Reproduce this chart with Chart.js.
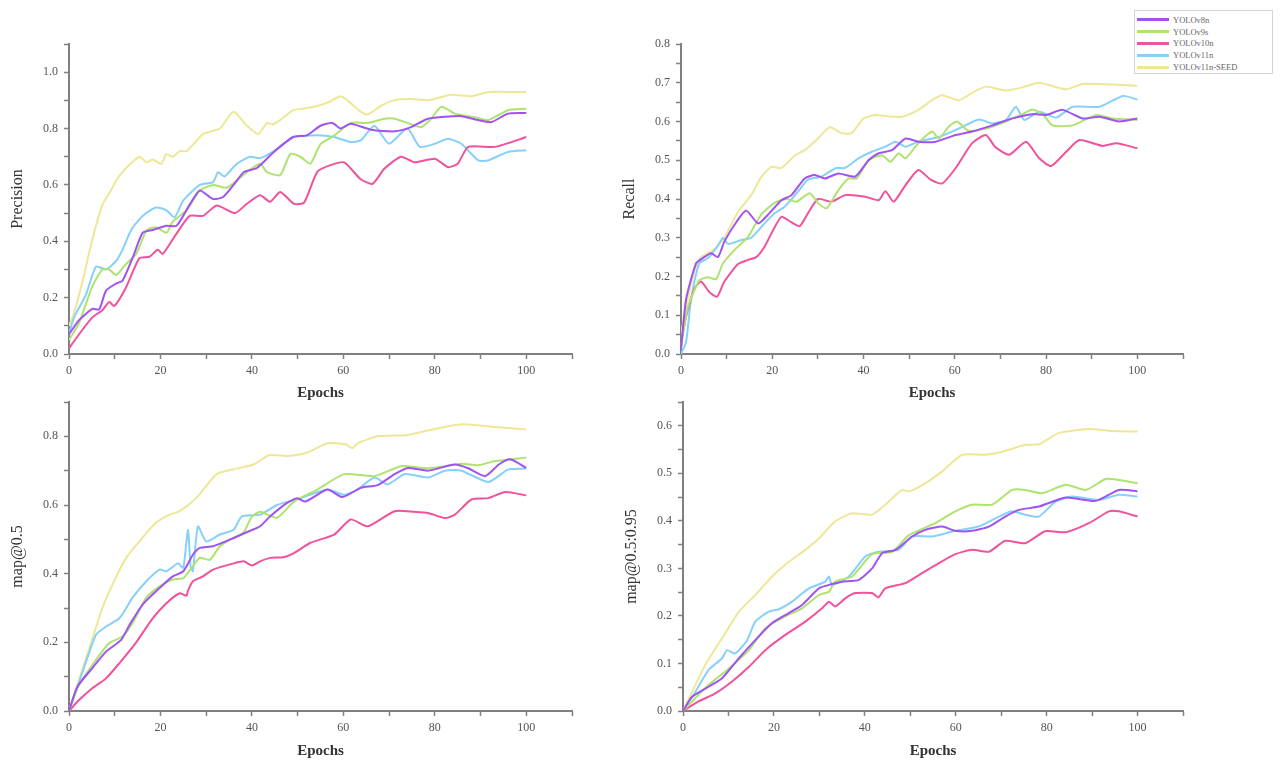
<!DOCTYPE html>
<html>
<head>
<meta charset="utf-8">
<script src="https://cdn.jsdelivr.net/npm/chart.js@4.4.1/dist/chart.umd.min.js"></script>
<style>
  html, body { margin: 0; padding: 0; background: #fff; }
  body { width: 1283px; height: 764px; position: relative; overflow: hidden; }
  .c { position: absolute; }
  #legend { position: absolute; left: 1134px; top: 10px; width: 139px; height: 64px; border: 1px solid #d4d4d4; background: #fff; box-sizing: border-box; padding-top: 3px; }
  .row { height: 11.8px; display: flex; align-items: center; font-family: 'Liberation Serif', 'Times New Roman', serif; font-size: 8.5px; color: #666; }
  .sw { width: 32px; height: 3px; margin: 0 4px 0 2px; }
</style>
</head>
<body>
<canvas id="cP" class="c" style="left:0px;top:0px" width="620" height="406"></canvas>
<canvas id="cR" class="c" style="left:612px;top:0px" width="620" height="406"></canvas>
<canvas id="cM" class="c" style="left:0px;top:360px" width="620" height="404"></canvas>
<canvas id="cQ" class="c" style="left:614px;top:360px" width="620" height="404"></canvas>
<div id="legend"></div>
<script>
// ---- series names and colours ----
const seriesNames = ['YOLOv8n', 'YOLOv9s', 'YOLOv10n', 'YOLOv11n', 'YOLOv11n-SEED'];
const seriesColors = ['#a052f2', '#ade36e', '#f0529c', '#86d0fa', '#eee796'];

// ---- x axis tick labels ----
const epochTickLabels = [0, 20, 40, 60, 80, 100];

// ---- Precision [epoch, value] ----
const precision_v8n = [[0,0.07],[2.2,0.12],[5.1,0.16],[6.6,0.158],[8.1,0.225],[10.3,0.25],[11.7,0.26],[14,0.345],[16.1,0.43],[18.3,0.44],[21.3,0.455],[23.5,0.455],[26.4,0.53],[28.6,0.58],[31.5,0.55],[33.7,0.557],[36,0.60],[38.2,0.645],[41.1,0.66],[44.8,0.717],[49,0.77],[52,0.776],[55,0.81],[57.6,0.82],[59.4,0.80],[61.6,0.817],[66,0.796],[71.2,0.79],[74.8,0.805],[78.5,0.835],[85.8,0.844],[89.5,0.83],[92.4,0.823],[96,0.853],[100,0.855]];
const precision_v9s = [[0,0.05],[2.2,0.11],[5.1,0.24],[7.3,0.30],[8.8,0.30],[10.3,0.28],[12.5,0.32],[14.7,0.355],[17,0.44],[19,0.45],[21.3,0.43],[22.7,0.47],[25.7,0.51],[28.6,0.58],[31.5,0.60],[34.5,0.59],[38.9,0.645],[41.8,0.675],[43.3,0.645],[46.2,0.635],[48.4,0.71],[50.6,0.70],[52.8,0.675],[55,0.745],[58,0.775],[61.6,0.82],[65.3,0.82],[69,0.835],[71.2,0.835],[74,0.82],[77,0.805],[79.2,0.835],[81.4,0.877],[84.4,0.853],[88.8,0.84],[91.7,0.83],[96,0.865],[100,0.87]];
const precision_v10n = [[0,0.02],[2.2,0.07],[5.1,0.13],[7.3,0.155],[8.8,0.185],[9.9,0.17],[12.5,0.237],[15.4,0.34],[17.6,0.345],[19.4,0.37],[20.5,0.355],[23.5,0.427],[26.4,0.49],[29.3,0.49],[32.3,0.527],[36.3,0.50],[38.9,0.533],[41.8,0.563],[44,0.54],[46.2,0.575],[49.2,0.533],[51.4,0.537],[54.3,0.646],[57.2,0.67],[60.2,0.68],[63.8,0.62],[66.4,0.604],[69,0.658],[72.6,0.70],[75.6,0.68],[80,0.693],[82.9,0.663],[85,0.675],[87.3,0.735],[93.2,0.735],[100,0.77]];
const precision_v11n = [[0,0.07],[1.1,0.13],[3.7,0.21],[5.9,0.31],[8.1,0.30],[10.3,0.33],[11.7,0.37],[13.6,0.44],[16.1,0.49],[19,0.52],[21.3,0.51],[23.1,0.485],[25,0.545],[28.6,0.60],[31.5,0.61],[32.6,0.645],[34,0.63],[36.7,0.675],[39.6,0.70],[41.8,0.695],[44.8,0.72],[49.2,0.77],[54.3,0.776],[58,0.77],[61.6,0.752],[63.8,0.758],[66.8,0.81],[70,0.746],[74,0.80],[76.7,0.735],[80,0.746],[82.9,0.764],[85.8,0.746],[89.5,0.687],[91.7,0.687],[96,0.717],[100,0.723]];
const precision_v11nSEED = [[0,0.10],[1,0.14],[3,0.26],[5,0.40],[7.3,0.53],[8.8,0.57],[10.5,0.62],[12.5,0.66],[15.4,0.70],[17,0.68],[18.3,0.69],[20.2,0.675],[21.3,0.71],[22.7,0.70],[24.2,0.72],[25.7,0.72],[27.5,0.75],[29.3,0.78],[31,0.79],[33,0.80],[36,0.86],[38.9,0.81],[41.4,0.78],[43.3,0.82],[44.5,0.815],[46.2,0.83],[49,0.865],[51,0.87],[54.3,0.88],[57,0.895],[59.4,0.915],[60.9,0.90],[63.8,0.86],[65.3,0.85],[68.2,0.88],[71,0.90],[74.8,0.905],[78.5,0.90],[83.6,0.92],[88,0.915],[91.7,0.93],[96,0.93],[100,0.93]];

// ---- Recall ----
const recall_v8n = [[0,0.01],[1.1,0.14],[3.3,0.234],[4.7,0.247],[6.6,0.26],[8.1,0.25],[9.5,0.29],[12.1,0.34],[14.3,0.37],[16.9,0.337],[19.1,0.36],[22,0.397],[24.2,0.41],[27.1,0.453],[29.3,0.462],[31.5,0.453],[34.5,0.466],[38.2,0.458],[41.1,0.50],[43.3,0.518],[46.2,0.526],[49.2,0.556],[52,0.548],[55.8,0.548],[60.2,0.565],[63.8,0.574],[68.2,0.59],[72.6,0.608],[77,0.619],[80,0.617],[83.6,0.63],[88,0.608],[91.7,0.612],[96,0.60],[100,0.608]];
const recall_v9s = [[0,0.02],[1.5,0.12],[4,0.19],[5.9,0.198],[7.7,0.193],[9.2,0.234],[11.7,0.268],[14.7,0.303],[17.6,0.36],[20.5,0.39],[23.1,0.40],[25.3,0.393],[28.2,0.415],[30,0.39],[31.9,0.376],[34.5,0.423],[36.7,0.453],[38.5,0.453],[41.1,0.50],[44,0.513],[45.9,0.496],[47.7,0.518],[49.2,0.505],[52,0.544],[55,0.574],[56.5,0.556],[58.7,0.587],[60.5,0.60],[63,0.576],[66.8,0.582],[71.2,0.60],[74.8,0.619],[77,0.631],[79.2,0.62],[81.4,0.59],[85.8,0.59],[91,0.617],[94.6,0.608],[100,0.604]];
const recall_v10n = [[0,0.03],[1.1,0.096],[3,0.17],[4.4,0.187],[6.2,0.16],[7.9,0.148],[9.5,0.187],[12.5,0.232],[14.7,0.243],[16.5,0.25],[18.3,0.277],[20.2,0.32],[22,0.354],[24.2,0.34],[26,0.33],[27.8,0.363],[30,0.40],[33,0.393],[36,0.41],[40.4,0.406],[43.3,0.397],[44.8,0.42],[46.6,0.393],[49.2,0.436],[52,0.475],[54.7,0.45],[57.2,0.44],[60.2,0.48],[63.8,0.544],[66.8,0.565],[68.8,0.535],[71.9,0.514],[75.6,0.548],[78.5,0.505],[81.1,0.485],[84.4,0.522],[87.3,0.552],[92.4,0.537],[95.4,0.544],[100,0.531]];
const recall_v11n = [[0,0],[1.1,0.03],[2.2,0.14],[4,0.234],[5.9,0.247],[8.1,0.28],[9.2,0.30],[10.3,0.284],[13.2,0.294],[15.4,0.30],[18.3,0.337],[20.5,0.363],[22.7,0.38],[25.7,0.42],[27.8,0.45],[30.8,0.458],[34,0.48],[35.9,0.48],[38.9,0.505],[41.8,0.522],[44.8,0.535],[47,0.548],[49.2,0.535],[52,0.548],[56.5,0.56],[60.9,0.582],[65.3,0.605],[68.2,0.595],[71.2,0.604],[73.4,0.638],[75.2,0.604],[78.5,0.625],[82.2,0.61],[85.8,0.638],[91.7,0.638],[96.8,0.666],[100,0.657]];
const recall_v11nSEED = [[0,0.05],[1.1,0.12],[3,0.217],[4.4,0.25],[7.3,0.27],[9.5,0.30],[12.5,0.367],[15.4,0.41],[17.6,0.457],[19.8,0.483],[22,0.48],[25,0.513],[27.1,0.526],[30,0.556],[32.6,0.585],[35.2,0.57],[37.4,0.57],[40,0.608],[42.6,0.617],[45.5,0.613],[48.4,0.612],[52,0.63],[55,0.655],[57.2,0.668],[60.9,0.655],[63.8,0.674],[66.8,0.69],[71.2,0.68],[74.8,0.688],[78.5,0.70],[84.4,0.683],[88,0.697],[93.2,0.696],[100,0.692]];

// ---- mAP@0.5 ----
const map50_v8n = [[0,0],[1.8,0.07],[5.1,0.125],[8.1,0.173],[11.4,0.207],[13.2,0.25],[16.1,0.31],[19.8,0.358],[22.7,0.392],[25,0.407],[27.1,0.455],[28.6,0.475],[31.5,0.48],[36,0.504],[39.6,0.525],[41.8,0.538],[44,0.567],[47.7,0.606],[49.9,0.62],[51.7,0.61],[56.5,0.645],[59.8,0.623],[63.8,0.65],[67.5,0.658],[71.2,0.69],[74.1,0.708],[78.5,0.70],[84.4,0.718],[87.3,0.707],[91,0.684],[94,0.718],[96.5,0.733],[100,0.708]];
const map50_v9s = [[0,0],[2.2,0.076],[5.1,0.134],[8.8,0.198],[11.7,0.217],[13.9,0.256],[16.9,0.33],[19.8,0.363],[22.7,0.383],[25,0.387],[26.4,0.41],[28.6,0.446],[30.8,0.44],[33,0.48],[36,0.504],[38.2,0.52],[40,0.567],[41.8,0.58],[45.5,0.563],[49.2,0.61],[54.3,0.645],[60.2,0.69],[66.8,0.684],[72.6,0.713],[78.5,0.707],[85.8,0.72],[89.5,0.716],[93.2,0.728],[100,0.738]];
const map50_v10n = [[0,0],[2.2,0.032],[5.1,0.066],[8.1,0.095],[11,0.139],[14.7,0.20],[18.3,0.27],[21.3,0.314],[24.2,0.343],[25.7,0.336],[26,0.35],[27.1,0.378],[29.3,0.392],[31.5,0.412],[36,0.43],[38.2,0.436],[40,0.424],[41.8,0.436],[44,0.446],[46.9,0.448],[49.2,0.46],[52.8,0.49],[58,0.514],[61.6,0.558],[65.3,0.538],[71.2,0.582],[75.6,0.58],[78.5,0.577],[82.2,0.562],[84.4,0.572],[88,0.616],[91.7,0.62],[95.4,0.638],[100,0.628]];
const map50_v11n = [[0,0],[3,0.115],[5.9,0.222],[8.1,0.246],[11,0.27],[13.9,0.33],[16.9,0.378],[19.8,0.412],[21.3,0.407],[23.8,0.43],[25,0.417],[26,0.528],[26.6,0.42],[27.1,0.407],[28.2,0.538],[30,0.494],[33,0.514],[36,0.528],[37.8,0.567],[41.8,0.572],[45.5,0.60],[50.6,0.62],[56.5,0.645],[60.2,0.63],[63.1,0.645],[66.8,0.68],[69.7,0.66],[73.4,0.69],[78.5,0.68],[82.2,0.70],[85.8,0.70],[91.7,0.667],[96,0.703],[100,0.706]];
const map50_v11nSEED = [[0,0],[3,0.125],[5.1,0.21],[7.3,0.30],[9.5,0.368],[12.5,0.446],[15.4,0.494],[19,0.548],[22,0.572],[24.2,0.582],[27.8,0.62],[32.3,0.69],[36,0.704],[40.4,0.718],[43.7,0.745],[47.7,0.743],[52,0.752],[56.5,0.78],[60.5,0.777],[62,0.765],[63.1,0.78],[67.5,0.80],[74.1,0.804],[78.5,0.817],[85.8,0.835],[93.2,0.827],[100,0.82]];

// ---- mAP@0.5:0.95 ----
const map5095_v8n = [[0,0],[2,0.03],[5.6,0.051],[8.6,0.069],[12.3,0.111],[15.9,0.149],[19.6,0.185],[23.3,0.206],[26.2,0.223],[29.9,0.258],[32.8,0.267],[35,0.272],[38.7,0.276],[41.6,0.30],[43.8,0.332],[46.8,0.339],[50.4,0.367],[53.3,0.381],[57,0.388],[59.9,0.379],[63.6,0.379],[67.3,0.388],[70.9,0.409],[73.9,0.423],[78.3,0.43],[84.2,0.449],[90.8,0.442],[95.9,0.465],[100,0.462]];
const map5095_v9s = [[0,0],[3.4,0.034],[5.6,0.055],[9.3,0.083],[14.5,0.128],[18.1,0.174],[22.5,0.199],[26.2,0.216],[29.9,0.244],[32.1,0.251],[33.5,0.272],[37.2,0.283],[41.6,0.33],[46,0.335],[49.7,0.37],[55.5,0.395],[59.9,0.42],[63.6,0.434],[68,0.434],[72.4,0.465],[75.3,0.465],[79,0.458],[84.2,0.476],[88.6,0.465],[93,0.488],[95.9,0.486],[100,0.479]];
const map5095_v10n = [[0,0],[3.4,0.02],[7.1,0.037],[10.8,0.062],[14.5,0.093],[18.1,0.128],[22.5,0.16],[26.9,0.188],[30.6,0.216],[32.1,0.23],[33.5,0.22],[35.7,0.237],[37.9,0.248],[41.6,0.248],[43,0.239],[44.5,0.258],[48.9,0.269],[51.9,0.286],[56.3,0.311],[59.9,0.33],[63.6,0.339],[67.3,0.335],[70.9,0.358],[75.3,0.353],[79.7,0.378],[84.2,0.376],[89.3,0.395],[93.7,0.42],[95.9,0.42],[100,0.409]];
const map5095_v11n = [[0,0],[2.7,0.04],[5.6,0.086],[8.6,0.111],[9.7,0.128],[11.5,0.121],[14.1,0.149],[15.9,0.188],[18.9,0.209],[21.1,0.214],[24,0.23],[27.7,0.258],[31.3,0.272],[32.1,0.283],[32.8,0.265],[36.5,0.283],[40.1,0.325],[43,0.335],[47.4,0.339],[50.4,0.367],[54.8,0.367],[59.9,0.379],[65,0.388],[69.5,0.409],[72.4,0.42],[75.3,0.413],[78.3,0.409],[81.9,0.44],[85.6,0.451],[91.5,0.444],[95.9,0.455],[100,0.451]];
const map5095_v11nSEED = [[0,0],[4.9,0.097],[8.6,0.153],[12.3,0.209],[15.9,0.244],[19.6,0.283],[23.3,0.314],[26.9,0.339],[29.9,0.363],[33.5,0.399],[37.2,0.416],[41.6,0.413],[44.5,0.434],[48.2,0.465],[49.7,0.462],[53.3,0.479],[57,0.504],[61.4,0.539],[66.5,0.539],[70.9,0.547],[75.3,0.56],[78.3,0.561],[82.7,0.585],[89.3,0.593],[94.4,0.589],[100,0.588]];

const FONT = "'Liberation Serif', 'Times New Roman', serif";

function isMult(v, step) {
  const r = v / step;
  return Math.abs(r - Math.round(r)) < 1e-6;
}

function makeChart(id, yTitle, yMax, yStep, yLabelStep, series, pad) {
  const datasets = series.map((d, i) => ({
    label: seriesNames[i],
    data: d,
    borderColor: seriesColors[i],
    backgroundColor: seriesColors[i],
    borderWidth: 2,
    pointRadius: 0,
    tension: 0.2,
    fill: false
  }));
  new Chart(document.getElementById(id), {
    type: 'line',
    data: { datasets },
    options: {
      responsive: false,
      animation: false,
      devicePixelRatio: 1,
      layout: { padding: pad },
      plugins: { legend: { display: false }, tooltip: { enabled: false } },
      scales: {
        x: {
          type: 'linear', min: 0, max: 110,
          border: { display: true, color: '#808080', width: 2 },
          grid: { display: true, drawOnChartArea: false, drawTicks: true, tickLength: 5, tickColor: '#808080', tickWidth: 1.5 },
          ticks: {
            stepSize: 10, autoSkip: false, maxRotation: 0, padding: 5,
            color: '#555', font: { family: FONT, size: 12 },
            callback: (v) => epochTickLabels.includes(v) ? String(v) : ''
          },
          title: { display: true, text: 'Epochs', color: '#333', font: { family: FONT, size: 15, weight: 'bold' }, padding: { top: 4, bottom: 4 } },
          afterFit: (s) => { s.height = pad.xh; }
        },
        y: {
          type: 'linear', min: 0, max: yMax,
          border: { display: true, color: '#808080', width: 2 },
          grid: { display: true, drawOnChartArea: false, drawTicks: true, tickLength: 5, tickColor: '#808080', tickWidth: 1.5 },
          ticks: {
            stepSize: yStep, autoSkip: false, padding: 6,
            color: '#555', font: { family: FONT, size: 12 },
            callback: (v) => isMult(v, yLabelStep) ? v.toFixed(1) : ''
          },
          title: { display: true, text: yTitle, color: '#333', font: { family: FONT, size: 16 }, padding: { top: 4, bottom: 4 } },
          afterFit: (s) => { s.width = 65; }
        }
      }
    }
  });
}

makeChart('cP', 'Precision', 1.1, 0.1, 0.2,
  [precision_v8n, precision_v9s, precision_v10n, precision_v11n, precision_v11nSEED],
  { left: 4, top: 44, right: 48, bottom: 0, xh: 52 });
makeChart('cR', 'Recall', 0.8, 0.05, 0.1,
  [recall_v8n, recall_v9s, recall_v10n, recall_v11n, recall_v11nSEED],
  { left: 4, top: 44, right: 49, bottom: 0, xh: 52 });
makeChart('cM', 'map@0.5', 0.9, 0.1, 0.2,
  [map50_v8n, map50_v9s, map50_v10n, map50_v11n, map50_v11nSEED],
  { left: 4, top: 42, right: 48, bottom: 0, xh: 53 });
makeChart('cQ', 'map@0.5:0.95', 0.65, 0.05, 0.1,
  [map5095_v8n, map5095_v9s, map5095_v10n, map5095_v11n, map5095_v11nSEED],
  { left: 4, top: 42, right: 51, bottom: 0, xh: 53 });

// legend
const lg = document.getElementById('legend');
seriesNames.forEach((n, i) => {
  const row = document.createElement('div');
  row.className = 'row';
  const sw = document.createElement('span');
  sw.className = 'sw';
  sw.style.background = seriesColors[i];
  const t = document.createElement('span');
  t.textContent = n;
  row.appendChild(sw); row.appendChild(t);
  lg.appendChild(row);
});
</script>
</body>
</html>
